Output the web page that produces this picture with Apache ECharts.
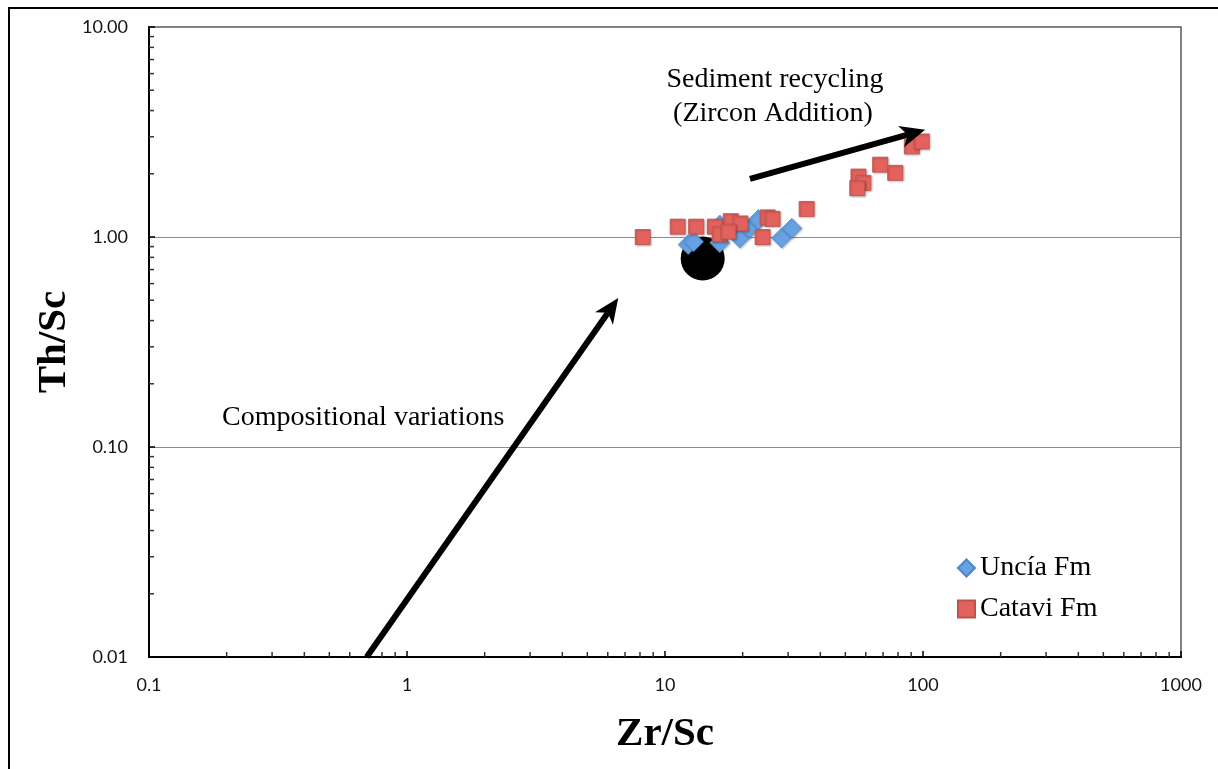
<!DOCTYPE html>
<html>
<head>
<meta charset="utf-8">
<script src="https://cdn.jsdelivr.net/npm/echarts@6/dist/echarts.min.js"></script>
<style>
  html, body { margin: 0; padding: 0; background: #fff; }
  #chart { width: 1218px; height: 769px; }
</style>
</head>
<body>
<div id="chart"></div>
<script>
// Uncía Formation samples (Zr/Sc, Th/Sc)
const unciaZr = [12.3, 12.9, 16.3, 16.3, 19.5, 21.3, 23.0, 28.3, 31.0];
const unciaTh = [0.92, 0.95, 0.94, 1.14, 0.99, 1.10, 1.21, 0.99, 1.10];

// Catavi Formation samples (Zr/Sc, Th/Sc)
const cataviZr = [8.2, 11.2, 13.2, 15.6, 16.3, 18.0, 19.6, 17.6, 23.9, 25.0, 26.1, 35.4, 56.2, 58.7, 55.6, 68.2, 78.0, 90.5, 98.9];
const cataviTh = [1.00, 1.12, 1.12, 1.12, 1.03, 1.19, 1.16, 1.06, 1.00, 1.24, 1.22, 1.36, 1.94, 1.81, 1.71, 2.21, 2.02, 2.70, 2.85];

// Upper continental crust reference point
const uccPoint = [14.0, 0.79];

// Trend arrows: [tailZr, tailTh, tipZr, tipTh]
const trendArrows = [
  [0.698, 0.01, 6.59, 0.512],
  [21.35, 1.89, 101.9, 3.24]
];

// Axis ticks and labels
const xTickLabels = ['0.1', '1', '10', '100', '1000'];
const yTickLabels = ['0.01', '0.10', '1.00', '10.00'];
const xMinorTicks = [0.2, 0.3, 0.4, 0.5, 0.6, 0.7, 0.8, 0.9,
                     2, 3, 4, 5, 6, 7, 8, 9,
                     20, 30, 40, 50, 60, 70, 80, 90,
                     200, 300, 400, 500, 600, 700, 800, 900];
const yMinorTicks = [0.02, 0.03, 0.04, 0.05, 0.06, 0.07, 0.08, 0.09,
                     0.2, 0.3, 0.4, 0.5, 0.6, 0.7, 0.8, 0.9,
                     2, 3, 4, 5, 6, 7, 8, 9];

const X_MIN = 0.1, X_MAX = 1000, Y_MIN = 0.01, Y_MAX = 10;
const SERIF = '"Liberation Serif", "Times New Roman", serif';
const SANS = 'Lato, "Open Sans", sans-serif';

const zip = (a, b) => a.map((v, i) => [v, b[i]]);

const chart = echarts.init(document.getElementById('chart'), null, { renderer: 'canvas' });

function drawArrow(params, api) {
  const p0 = api.coord([api.value(0), api.value(1)]);
  const p1 = api.coord([api.value(2), api.value(3)]);
  const dx = p1[0] - p0[0], dy = p1[1] - p0[1];
  const len = Math.sqrt(dx * dx + dy * dy);
  const ux = dx / len, uy = dy / len;
  const nx = -uy, ny = ux;
  const headLen = 25, headW = 22, notch = 0.72;
  const bx = p1[0] - ux * headLen, by = p1[1] - uy * headLen;
  const mx = p1[0] - ux * headLen * notch, my = p1[1] - uy * headLen * notch;
  return {
    type: 'group',
    children: [
      {
        type: 'line',
        shape: { x1: p0[0], y1: p0[1], x2: mx, y2: my },
        style: { stroke: '#000', lineWidth: 6 }
      },
      {
        type: 'polygon',
        shape: { points: [
          [p1[0], p1[1]],
          [bx + nx * headW / 2, by + ny * headW / 2],
          [mx, my],
          [bx - nx * headW / 2, by - ny * headW / 2]
        ] },
        style: { fill: '#000' }
      }
    ]
  };
}

const option = {
  animation: false,
  backgroundColor: '#fff',
  grid: {
    left: 149, right: 37, top: 27, bottom: 112,
    show: true, borderColor: '#5a5a5a', borderWidth: 1.5, backgroundColor: 'transparent'
  },
  xAxis: {
    type: 'log', logBase: 10, min: X_MIN, max: X_MAX,
    name: 'Zr/Sc', nameLocation: 'middle', nameGap: 57,
    nameTextStyle: { fontFamily: SERIF, fontWeight: 'bold', fontSize: 41, color: '#000' },
    axisLine: { show: true, lineStyle: { color: '#000', width: 2 } },
    axisTick: { show: true, inside: true, length: 6, lineStyle: { color: '#000', width: 1.5 } },
    axisLabel: {
      margin: 19, fontFamily: SANS, fontSize: 18, color: '#141414',
      formatter: v => xTickLabels[Math.round(Math.log10(v)) + 1]
    },
    splitLine: { show: false },
    minorTick: { show: false }
  },
  yAxis: {
    type: 'log', logBase: 10, min: Y_MIN, max: Y_MAX,
    axisLine: { show: true, lineStyle: { color: '#000', width: 2 } },
    axisTick: { show: true, inside: true, length: 6, lineStyle: { color: '#000', width: 1.5 } },
    axisLabel: {
      margin: 21, fontFamily: SANS, fontSize: 18, color: '#141414',
      formatter: v => yTickLabels[Math.round(Math.log10(v)) + 2]
    },
    splitLine: {
      show: true,
      lineStyle: { color: '#8c8c8c', width: 1 },
      showMinLine: false, showMaxLine: false
    },
    minorTick: { show: false }
  },
  legend: {
    orient: 'vertical', left: 952, top: 549,
    itemWidth: 17, itemHeight: 17, itemGap: 13,
    textStyle: { fontFamily: SERIF, fontSize: 28, color: '#000' },
    data: ['Uncía Fm', 'Catavi Fm']
  },
  graphic: [
    {
      type: 'rect', silent: true, z: 100,
      shape: { x: 9, y: 8, width: 1400, height: 1000 },
      style: { fill: 'none', stroke: '#000', lineWidth: 2 }
    },
    {
      // vertical axis title
      type: 'text', x: 54, y: 342, rotation: Math.PI / 2, silent: true,
      style: { text: 'Th/Sc', font: 'bold 41px ' + SERIF, fill: '#000', textAlign: 'center', textVerticalAlign: 'middle' }
    },
    {
      type: 'text', x: 775, y: 80, silent: true,
      style: { text: 'Sediment recycling', font: '28px ' + SERIF, fill: '#000', textAlign: 'center', textVerticalAlign: 'middle' }
    },
    {
      type: 'text', x: 773, y: 114, silent: true,
      style: { text: '(Zircon Addition)', font: '28px ' + SERIF, fill: '#000', textAlign: 'center', textVerticalAlign: 'middle' }
    },
    {
      type: 'text', x: 222, y: 418, silent: true,
      style: { text: 'Compositional variations', font: '28px ' + SERIF, fill: '#000', textAlign: 'left', textVerticalAlign: 'middle' }
    }
  ],
  series: [
    {
      // minor ticks along the Zr/Sc axis
      type: 'custom', silent: true, z: 5,
      data: xMinorTicks.map(v => [v, Y_MIN]),
      renderItem: (params, api) => {
        const p = api.coord([api.value(0), api.value(1)]);
        return { type: 'line', shape: { x1: p[0], y1: p[1], x2: p[0], y2: p[1] - 5 },
                 style: { stroke: '#333', lineWidth: 1.5 } };
      }
    },
    {
      // minor ticks along the Th/Sc axis
      type: 'custom', silent: true, z: 5,
      data: yMinorTicks.map(v => [X_MIN, v]),
      renderItem: (params, api) => {
        const p = api.coord([api.value(0), api.value(1)]);
        return { type: 'line', shape: { x1: p[0], y1: p[1], x2: p[0] + 5, y2: p[1] },
                 style: { stroke: '#333', lineWidth: 1.5 } };
      }
    },
    {
      name: 'UCC', type: 'scatter', symbol: 'circle', symbolSize: 44,
      data: [uccPoint],
      itemStyle: { color: '#000', opacity: 1 },
      z: 2
    },
    {
      name: 'Uncía Fm', type: 'scatter', symbol: 'diamond', symbolSize: [20, 20],
      data: zip(unciaZr, unciaTh),
      itemStyle: { color: '#66a1e2', borderColor: '#4a86c8', borderWidth: 0.6, opacity: 1,
                   shadowColor: 'rgba(0,0,0,0.25)', shadowBlur: 2, shadowOffsetX: 1, shadowOffsetY: 1 },
      z: 3
    },
    {
      name: 'Catavi Fm', type: 'scatter', symbol: 'rect', symbolSize: [15, 15],
      data: zip(cataviZr, cataviTh),
      itemStyle: { color: '#e3625d', borderColor: '#c0504d', borderWidth: 0.8, opacity: 1,
                   shadowColor: 'rgba(0,0,0,0.25)', shadowBlur: 2, shadowOffsetX: 1, shadowOffsetY: 1 },
      z: 4
    },
    {
      // trend arrows
      type: 'custom', silent: true, z: 6,
      data: trendArrows,
      encode: { x: [0, 2], y: [1, 3] },
      renderItem: drawArrow
    }
  ]
};

chart.setOption(option);
</script>
</body>
</html>
